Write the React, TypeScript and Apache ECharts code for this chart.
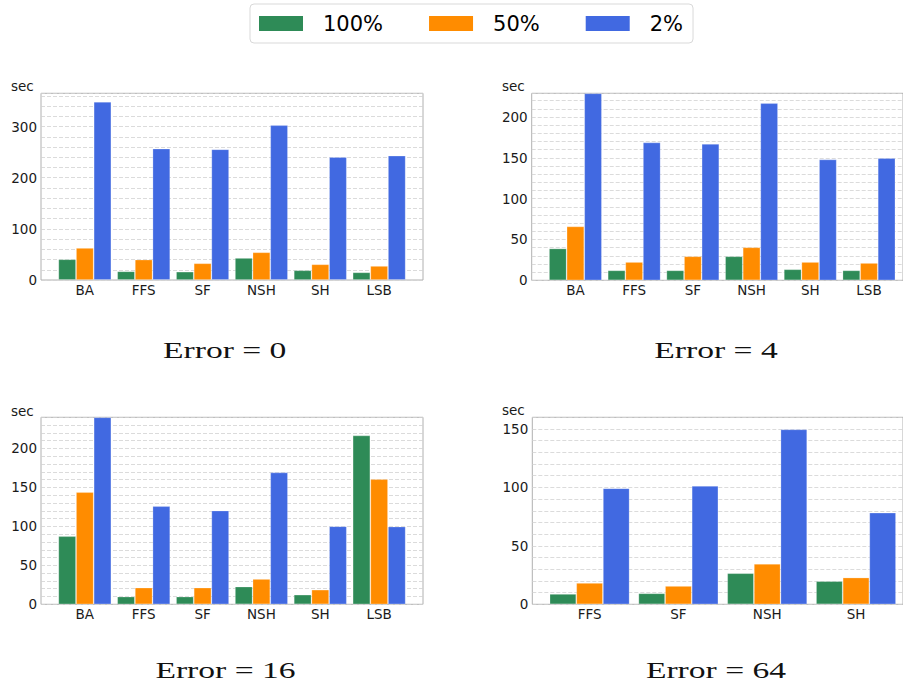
import React, { useEffect, useRef } from "react";
import * as echarts from "echarts";

// ---------- data ----------
const CATS6 = ["BA", "FFS", "SF", "NSH", "SH", "LSB"];
const CATS4 = ["FFS", "SF", "NSH", "SH"];
const SERIES_NAMES = ["100%", "50%", "2%"];
const COLORS = ["#2e8b57", "#ff8c00", "#4169e1"];

// Error = 0
const e0_100 = [40.5, 17, 16.3, 43.1, 19, 15];
const e0_50 = [62.7, 39.9, 32.7, 54.2, 30.7, 27.5];
const e0_2 = [348.4, 256.9, 255.6, 302.6, 240.5, 243.1];
// Error = 4
const e4_100 = [39, 12.2, 12.2, 29.4, 13.5, 12.2];
const e4_50 = [66, 22.4, 29.4, 40.4, 22.4, 21.2];
const e4_2 = [229, 168.8, 167, 216.9, 148, 149.6];
// Error = 16
const e16_100 = [87.4, 9.9, 9.9, 22.7, 12.4, 216.7];
const e16_50 = [143.9, 21.4, 21.4, 32.5, 18.8, 160.6];
const e16_2 = [240, 125.9, 120.3, 169.2, 100.2, 99.8];
// Error = 64
const e64_100 = [8.9, 9.4, 26.6, 19.8];
const e64_50 = [18.3, 15.7, 34.6, 22.9];
const e64_2 = [99.3, 101.3, 149.7, 78.4];

const TITLES = ["Error = 0", "Error = 4", "Error = 16", "Error = 64"];
const Y_MAX = [365, 229, 240, 160];
const Y_MINOR = [20, 10, 10, 10];
const Y_MAJOR = [100, 50, 50, 50];

// ---------- layout ----------
const PANELS = [
  { cats: CATS6, data: [e0_100, e0_50, e0_2], L: 41, T: 93.3, W: 382, H: 186.7, tx: 224.7, ty: 350, sx: 11, sy: 86 },
  { cats: CATS6, data: [e4_100, e4_50, e4_2], L: 531.7, T: 93.3, W: 381, H: 187, tx: 716, ty: 350, sx: 502, sy: 86 },
  { cats: CATS6, data: [e16_100, e16_50, e16_2], L: 41, T: 417.3, W: 382, H: 187, tx: 225.5, ty: 670, sx: 11, sy: 410.5 },
  { cats: CATS4, data: [e64_100, e64_50, e64_2], L: 532.3, T: 417.3, W: 381, H: 187, tx: 716, ty: 670, sx: 502, sy: 410 },
];

const TICK_FONT = "DejaVu Sans";

function buildOption() {
  const grid: any[] = [];
  const xAxis: any[] = [];
  const yAxis: any[] = [];
  const series: any[] = [];
  const graphic: any[] = [];

  PANELS.forEach((p, i) => {
    const n = p.cats.length;
    const band = p.W / ((n - 0.1) * 1.1);
    const margin = 0.05 * (n - 0.1) * band;
    const bandStart = margin - 0.05 * band;
    const fi = 2 * i;
    const bi = 2 * i + 1;

    grid.push({
      left: p.L,
      top: p.T,
      width: p.W,
      height: p.H,
      show: true,
      borderColor: "#b0b0b0",
      borderWidth: 1,
      backgroundColor: "transparent",
    });
    grid.push({
      left: p.L + bandStart,
      top: p.T,
      width: n * band,
      height: p.H,
    });

    xAxis.push({ gridIndex: fi, type: "value", show: false, min: 0, max: 1 });
    xAxis.push({
      gridIndex: bi,
      type: "category",
      data: p.cats,
      axisLine: { show: false },
      axisTick: { show: false },
      axisLabel: {
        margin: 3,
        fontSize: 13.5,
        fontFamily: TICK_FONT,
        color: "#1a1a1a",
      },
    });

    const major = Y_MAJOR[i];
    yAxis.push({
      gridIndex: fi,
      type: "value",
      min: 0,
      max: Y_MAX[i],
      interval: Y_MINOR[i],
      axisLine: { show: false },
      axisTick: { show: false },
      axisLabel: {
        margin: 4,
        fontSize: 13.5,
        fontFamily: TICK_FONT,
        color: "#1a1a1a",
        showMaxLabel: false,
        formatter: (v: number) => (Math.abs(v % major) < 1e-9 ? String(v) : ""),
      },
      splitLine: {
        show: true,
        lineStyle: { color: "#d2d2d2", width: 0.8, type: [4, 2] },
      },
    });
    yAxis.push({
      gridIndex: bi,
      type: "value",
      min: 0,
      max: Y_MAX[i],
      show: false,
      splitLine: { show: false },
    });

    p.data.forEach((vals, s) => {
      series.push({
        type: "bar",
        name: SERIES_NAMES[s],
        xAxisIndex: bi,
        yAxisIndex: bi,
        data: vals,
        barGap: "0%",
        barCategoryGap: "10%",
        itemStyle: {
          color: COLORS[s],
          borderColor: "rgba(255,255,255,0.3)",
          borderWidth: 0.8,
        },
      });
    });

    graphic.push({
      type: "text",
      x: p.sx,
      y: p.sy,
      style: {
        text: "sec",
        x: 0,
        y: 0,
        textAlign: "left",
        textVerticalAlign: "middle",
        align: "left",
        verticalAlign: "middle",
        fontSize: 13.5,
        fontFamily: TICK_FONT,
        fill: "#1a1a1a",
      },
    });
    graphic.push({
      type: "text",
      x: p.tx,
      y: p.ty,
      scaleX: 1.4,
      style: {
        text: TITLES[i],
        x: 0,
        y: 0,
        textAlign: "center",
        textVerticalAlign: "middle",
        align: "center",
        verticalAlign: "middle",
        fontSize: 24,
        fontFamily: "Liberation Serif",
        fill: "#111",
      },
    });
  });

  return {
    animation: false,
    backgroundColor: "#ffffff",
    legend: {
      data: SERIES_NAMES,
      left: 250,
      top: 4,
      orient: "horizontal",
      icon: "rect",
      itemWidth: 44,
      itemHeight: 15,
      itemGap: 46,
      padding: [9, 10, 9, 9],
      borderColor: "#d9d9d9",
      borderWidth: 1,
      borderRadius: 4,
      backgroundColor: "#ffffff",
      selectedMode: false,
      itemStyle: { borderWidth: 0 },
      textStyle: {
        fontSize: 21,
        fontFamily: TICK_FONT,
        color: "#000",
        padding: [0, 0, 0, 15],
      },
    },
    grid,
    xAxis,
    yAxis,
    series,
    graphic,
  };
}

export default function App() {
  const ref = useRef<HTMLDivElement>(null);
  useEffect(() => {
    if (!ref.current) return;
    const chart = echarts.init(ref.current, undefined, { renderer: "svg" });
    chart.setOption(buildOption() as any);
    return () => chart.dispose();
  }, []);
  return (
    <div
      ref={ref}
      style={{ position: "fixed", left: 0, top: 0, width: 903, height: 689, background: "#fff" }}
    />
  );
}
